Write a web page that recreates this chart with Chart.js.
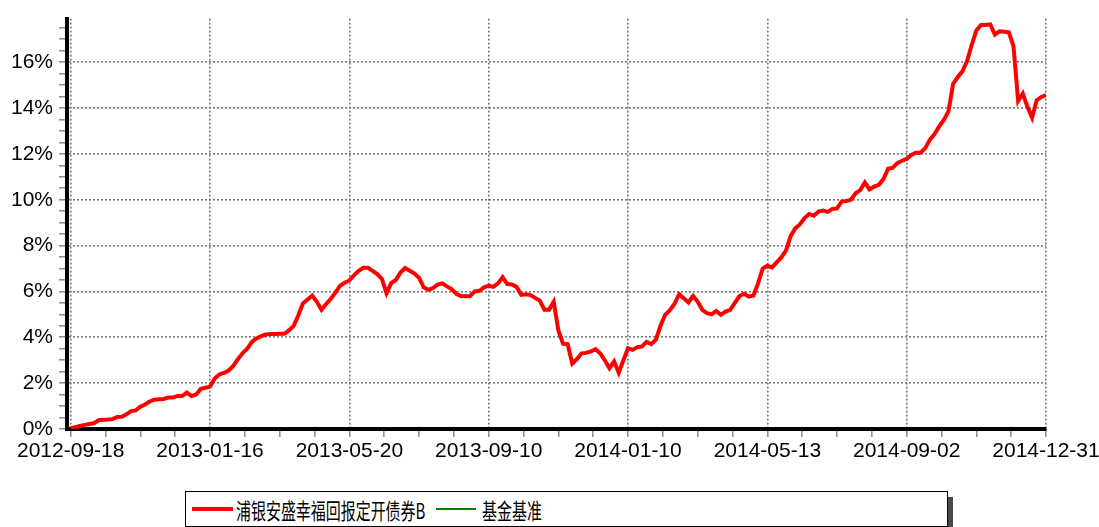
<!DOCTYPE html>
<html>
<head>
<meta charset="utf-8">
<script src="https://cdn.jsdelivr.net/npm/chart.js@4.4.1/dist/chart.umd.min.js"></script>
<style>
html, body { margin: 0; padding: 0; background: #fff; }
#wrap { position: relative; width: 1099px; height: 527px; overflow: hidden; }
#c { position: absolute; left: 0; top: 0; }
#legend { position: absolute; left: 185px; top: 491px; width: 761px; height: 34px;
  border: 1.5px solid #000; background: #fff; box-shadow: 5px 6px 0 #4a4a4a; }
.sw { position: absolute; }
.lt { position: absolute; top: 0; line-height: 34px; white-space: nowrap;
  font-family: "Noto Sans CJK SC", sans-serif; font-size: 22px; color: #000;
  transform: scaleX(0.68); transform-origin: 0 50%; }
</style>
</head>
<body>
<div id="wrap">
  <canvas id="c" width="1099" height="480"></canvas>
  <div id="legend">
    <div class="sw" style="left:6px;top:15px;width:41px;height:4px;background:#ff0000;"></div>
    <div class="lt" id="lab0" style="left:50px;"></div>
    <div class="sw" style="left:250px;top:16px;width:40px;height:2px;background:#008000;"></div>
    <div class="lt" id="lab1" style="left:296px;"></div>
  </div>
</div>
<script>
// 横轴日期（每段 30 个点）
const K = 30;
const tickDates = ['2012-09-18', '2013-01-16', '2013-05-20', '2013-09-10',
                   '2014-01-10', '2014-05-13', '2014-09-02', '2014-12-31'];

const seriesNames = ['浦银安盛幸福回报定开债券B', '基金基准'];

// 累计收益率 (%)
const fundValues = [
  0.03, 0.08, 0.13, 0.18, 0.22, 0.25, 0.38, 0.40, 0.41, 0.43,
  0.52, 0.53, 0.64, 0.78, 0.81, 0.97, 1.07, 1.20, 1.28, 1.30,
  1.31, 1.37, 1.37, 1.44, 1.44, 1.59, 1.44, 1.50, 1.75, 1.80,
  1.85, 2.20, 2.38, 2.45, 2.55, 2.75, 3.05, 3.30, 3.50, 3.80,
  3.95, 4.05, 4.12, 4.14, 4.14, 4.15, 4.15, 4.30, 4.50, 4.95,
  5.48, 5.65, 5.82, 5.55, 5.20, 5.45, 5.68, 5.95, 6.25, 6.38,
  6.48, 6.70, 6.90, 7.03, 7.03, 6.90, 6.76, 6.55, 5.92, 6.36,
  6.50, 6.82, 7.02, 6.90, 6.78, 6.60, 6.18, 6.07, 6.15, 6.30,
  6.35, 6.22, 6.10, 5.90, 5.80, 5.79, 5.80, 6.00, 6.03, 6.18,
  6.25, 6.20, 6.35, 6.62, 6.32, 6.30, 6.20, 5.85, 5.88, 5.84,
  5.72, 5.60, 5.20, 5.20, 5.55, 4.30, 3.72, 3.70, 2.85, 3.05,
  3.30, 3.32, 3.38, 3.48, 3.30, 3.00, 2.65, 2.95, 2.45, 3.00,
  3.52, 3.45, 3.57, 3.60, 3.80, 3.70, 3.90, 4.50, 4.98, 5.18,
  5.45, 5.88, 5.70, 5.52, 5.80, 5.55, 5.20, 5.05, 5.00, 5.15,
  4.98, 5.12, 5.20, 5.50, 5.80, 5.90, 5.77, 5.82, 6.35, 7.00,
  7.12, 7.05, 7.27, 7.48, 7.78, 8.40, 8.75, 8.92, 9.20, 9.38,
  9.30, 9.48, 9.53, 9.47, 9.60, 9.62, 9.92, 9.94, 10.00, 10.28,
  10.42, 10.75, 10.45, 10.57, 10.65, 10.90, 11.35, 11.40, 11.60, 11.70,
  11.78, 11.95, 12.05, 12.05, 12.25, 12.62, 12.86, 13.20, 13.48, 13.85,
  15.05, 15.35, 15.60, 16.05, 16.75, 17.38, 17.62, 17.62, 17.65, 17.20,
  17.35, 17.33, 17.30, 16.70, 14.30, 14.63, 14.05, 13.58, 14.34, 14.48,
  14.56
];
const benchValues = [];

document.getElementById('lab0').textContent = seriesNames[0];
document.getElementById('lab1').textContent = seriesNames[1];

const lastIdx = (tickDates.length - 1) * K;
const axisFont = { family: '"Liberation Sans", Arial, sans-serif', size: 21 };

new Chart(document.getElementById('c').getContext('2d'), {
  type: 'line',
  data: {
    datasets: [{
      label: seriesNames[0],
      data: fundValues.map((v, i) => ({ x: i, y: v })),
      borderColor: '#ff0000',
      borderWidth: 4,
      pointRadius: 0,
      tension: 0,
      fill: false
    }, {
      label: seriesNames[1],
      data: benchValues.map((v, i) => ({ x: i, y: v })),
      borderColor: '#008000',
      borderWidth: 2,
      pointRadius: 0,
      fill: false
    }]
  },
  options: {
    responsive: false,
    animation: false,
    devicePixelRatio: 1,
    layout: { padding: { top: 18, right: 53, left: 0, bottom: 0 } },
    plugins: { legend: { display: false }, tooltip: { enabled: false } },
    scales: {
      x: {
        type: 'linear',
        min: -0.8,
        max: lastIdx,
        afterBuildTicks: s => {
          const t = [];
          for (let v = 0; v <= lastIdx; v += K / 4) t.push({ value: v });
          s.ticks = t;
        },
        afterFit: s => { s.height = 51; s.paddingRight = 50; },
        ticks: {
          autoSkip: false,
          maxRotation: 0,
          padding: 2,
          color: '#000',
          font: axisFont,
          callback: v => (v % K === 0 ? tickDates[v / K] : '')
        },
        grid: {
          color: c => (c.tick && c.tick.value % K === 0 ? '#7a7a7a' : 'rgba(0,0,0,0)'),
          lineWidth: 1.6,
          tickColor: '#8a8a8a',
          tickLength: 8,
          tickWidth: 1.5
        },
        border: { color: '#000', width: 4, dash: [2, 2] }
      },
      y: {
        min: 0,
        max: 17.9,
        afterBuildTicks: s => {
          const t = [];
          for (let v = 0; v <= 17.5; v += 0.5) t.push({ value: v });
          s.ticks = t;
        },
        afterFit: s => { s.width = 67; },
        ticks: {
          autoSkip: false,
          padding: 6,
          color: '#000',
          font: axisFont,
          callback: v => (Math.round(v * 2) % 4 === 0 ? Math.round(v) + '%' : '')
        },
        grid: {
          color: c => (c.tick && Math.round(c.tick.value * 2) % 4 === 0 ? '#7a7a7a' : 'rgba(0,0,0,0)'),
          lineWidth: 1.6,
          tickColor: '#8a8a8a',
          tickLength: 8,
          tickWidth: 1.5
        },
        border: { color: '#000', width: 4, dash: [2, 2] }
      }
    }
  }
});
</script>
</body>
</html>
